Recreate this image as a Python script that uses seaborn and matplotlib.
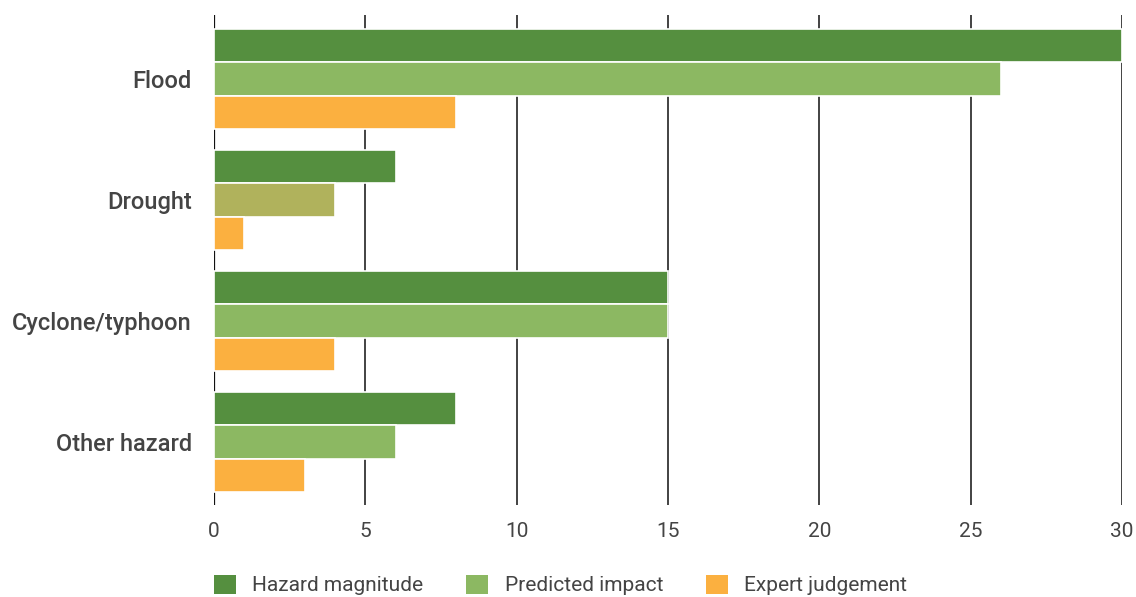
import matplotlib

matplotlib.use("Agg")
import matplotlib.pyplot as plt
import pandas as pd
import seaborn as sns
from matplotlib.patches import Patch

categories = ["Flood", "Drought", "Cyclone/typhoon", "Other hazard"]
series = ["Hazard magnitude", "Predicted impact", "Expert judgement"]
hazard_magnitude = [30, 6, 15, 8]
predicted_impact = [26, 4, 15, 6]
expert_judgement = [8, 1, 4, 3]
x_ticks = [0, 5, 10, 15, 20, 25, 30]

colors = ["#558f3f", "#8cb862", "#fbb040"]
drought_impact_color = "#b0b25c"

rows = []
for values, name in zip([hazard_magnitude, predicted_impact, expert_judgement], series):
    for cat, val in zip(categories, values):
        rows.append({"category": cat, "series": name, "value": val})
df = pd.DataFrame(rows)

sns.set_theme(style="white")
plt.rcParams["font.family"] = ["Roboto", "DejaVu Sans"]

fig = plt.figure(figsize=(11.36, 5.97), dpi=100)
ax = fig.add_axes([214 / 1136, 92 / 597, 908 / 1136, 490 / 597])

sns.barplot(
    data=df,
    y="category",
    x="value",
    hue="series",
    order=categories,
    hue_order=series,
    palette=colors,
    saturation=1,
    width=0.83,
    edgecolor="white",
    linewidth=1.2,
    legend=False,
    ax=ax,
    zorder=3,
)
# the drought "predicted impact" bar is drawn in an olive tone in the original
ax.containers[1][1].set_facecolor(drought_impact_color)

ax.set_xlim(0, 30)
ax.set_ylim(3.52, -0.53)
ax.set_xticks(x_ticks)
ax.set_xticklabels([str(t) for t in x_ticks], fontsize=15, color="#444444")
ax.tick_params(axis="x", length=0, pad=12)
ax.tick_params(axis="y", length=0, pad=16)
for label in ax.get_yticklabels():
    label.set_fontsize(17)
    label.set_color("#444444")
    label.set_fontweight("medium")
ax.set_xlabel("")
ax.set_ylabel("")
for spine in ax.spines.values():
    spine.set_visible(False)
for t in x_ticks:
    ax.axvline(t, color="#222222" if t else "#111111", linewidth=1.2 if t else 1.6, zorder=1)

handles = [Patch(facecolor=c, edgecolor="none") for c in colors]
fig.legend(
    handles,
    series,
    loc="center left",
    bbox_to_anchor=(195 / 1136, 1 - 585 / 597),
    ncol=3,
    frameon=False,
    fontsize=15,
    handlelength=1.05,
    handleheight=1.05,
    handletextpad=0.8,
    columnspacing=2.05,
    labelcolor="#444444",
)

fig.savefig("out.png", dpi=100)
